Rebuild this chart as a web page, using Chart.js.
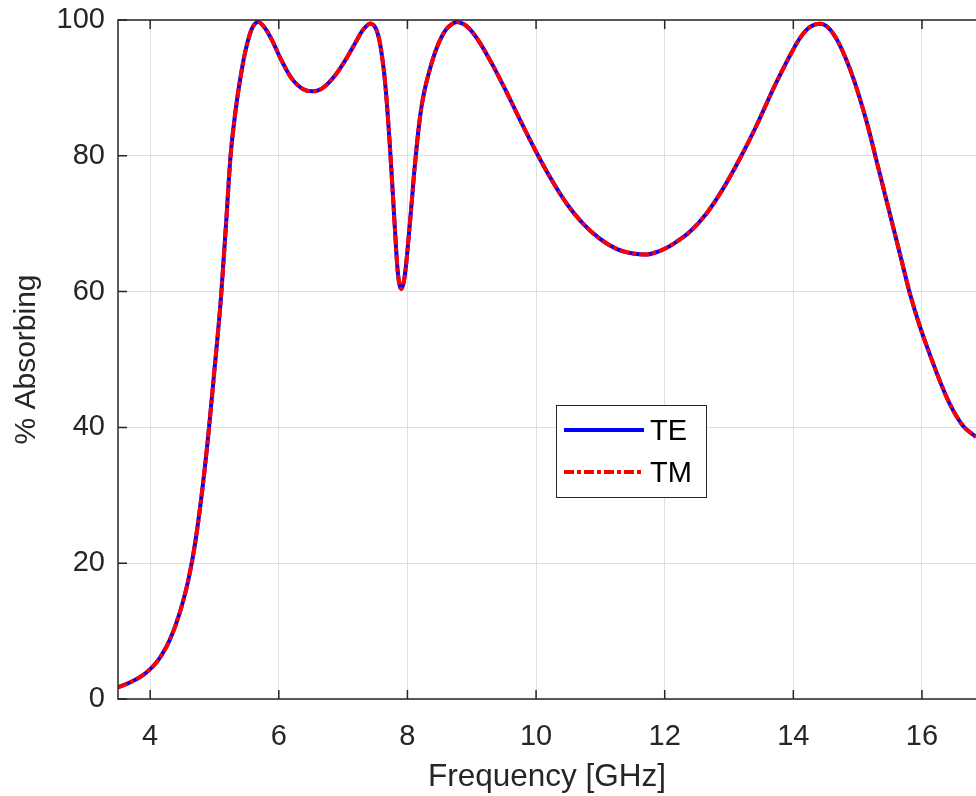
<!DOCTYPE html>
<html><head><meta charset="utf-8">
<script src="https://cdn.jsdelivr.net/npm/chart.js@4.4.1/dist/chart.umd.min.js"></script>
<style>html,body{margin:0;padding:0;background:#fff;overflow:hidden}#wrap{width:976px;height:796px}</style>
</head><body><div id="wrap"><canvas id="c" width="976" height="796"></canvas></div>
<script>
const freq = [3.50,3.70,3.90,4.00,4.10,4.20,4.30,4.40,4.50,4.60,
  4.70,4.80,4.90,5.00,5.10,5.18,5.25,5.30,5.35,5.40,
  5.45,5.50,5.58,5.68,5.80,5.89,6.05,6.20,6.38,6.52,
  6.67,6.88,7.08,7.20,7.29,7.36,7.42,7.48,7.52,7.56,
  7.60,7.64,7.68,7.72,7.75,7.78,7.81,7.84,7.87,7.905,
  7.94,7.97,8.00,8.03,8.07,8.10,8.14,8.18,8.22,8.27,
  8.33,8.40,8.46,8.53,8.61,8.69,8.77,8.85,8.92,9.02,
  9.13,9.34,9.54,9.75,10.00,10.22,10.48,10.73,10.99,11.25,
  11.51,11.70,11.87,12.00,12.13,12.39,12.65,12.91,13.17,13.43,
  13.69,13.95,14.10,14.25,14.42,14.62,14.88,15.14,15.29,15.42,
  15.55,15.68,15.81,15.97,16.12,16.28,16.43,16.64,16.84];
const te = [1.7,2.5,3.6,4.4,5.4,6.8,8.6,11.0,14.0,17.8,
  23.0,30.0,38.5,48.5,59.0,70.0,80.0,84.5,88.2,91.3,
  94.0,96.2,98.7,99.7,98.6,97.1,93.9,91.4,89.8,89.5,
  89.9,91.9,94.8,96.8,98.3,99.1,99.5,99.2,98.5,97.2,
  95.0,92.0,87.8,82.5,78.0,73.3,68.5,64.0,61.3,60.4,
  61.3,63.2,66.0,69.2,73.5,77.0,81.0,84.5,87.3,89.8,
  92.1,94.4,96.0,97.5,98.7,99.4,99.7,99.5,99.1,98.1,
  96.6,93.1,89.4,85.3,80.6,76.8,72.9,70.0,67.8,66.3,
  65.6,65.45,65.8,66.3,67.0,68.8,71.5,75.2,79.6,84.5,
  89.9,94.8,97.3,98.9,99.45,98.0,92.8,85.0,79.4,74.5,
  69.6,64.7,59.8,54.8,50.8,46.8,43.5,40.2,38.6];
const tm = [1.7,2.5,3.6,4.4,5.4,6.8,8.6,11.0,14.0,17.8,
  23.0,30.0,38.5,48.5,59.0,70.0,80.0,84.5,88.2,91.3,
  94.0,96.2,98.7,99.7,98.6,97.1,93.9,91.4,89.8,89.5,
  89.9,91.9,94.8,96.8,98.3,99.1,99.5,99.2,98.5,97.2,
  95.0,92.0,87.8,82.5,78.0,73.3,68.5,64.0,61.3,60.4,
  61.3,63.2,66.0,69.2,73.5,77.0,81.0,84.5,87.3,89.8,
  92.1,94.4,96.0,97.5,98.7,99.4,99.7,99.5,99.1,98.1,
  96.6,93.1,89.4,85.3,80.6,76.8,72.9,70.0,67.8,66.3,
  65.6,65.45,65.8,66.3,67.0,68.8,71.5,75.2,79.6,84.5,
  89.9,94.8,97.3,98.9,99.45,98.0,92.8,85.0,79.4,74.5,
  69.6,64.7,59.8,54.8,50.8,46.8,43.5,40.2,38.6];
const xTicks = [4,6,8,10,12,14,16];
const yTicks = [0,20,40,60,80,100];
const seriesNames = ['TE','TM'];
const xTitle = 'Frequency [GHz]';
const yTitle = '% Absorbing';

const FONT = "'Liberation Sans', Arial, Helvetica, sans-serif";
const AX = '#262626';

const boxPlugin = {
  id: 'box',
  afterDraw(chart) {
    const {ctx, chartArea: a, scales: {x, y}} = chart;
    ctx.save();
    ctx.strokeStyle = AX; ctx.lineWidth = 1.5;
    ctx.beginPath();
    ctx.moveTo(a.right + 2, a.top); ctx.lineTo(a.left, a.top);
    ctx.lineTo(a.left, a.bottom); ctx.lineTo(a.right + 2, a.bottom);
    ctx.stroke();
    const L = 9;
    ctx.beginPath();
    xTicks.forEach(v => {
      const px = x.getPixelForValue(v);
      ctx.moveTo(px, a.bottom); ctx.lineTo(px, a.bottom - L);
      ctx.moveTo(px, a.top); ctx.lineTo(px, a.top + L);
    });
    yTicks.forEach(v => {
      const py = y.getPixelForValue(v);
      ctx.moveTo(a.left, py); ctx.lineTo(a.left + L, py);
    });
    ctx.stroke();
    // legend
    const bx = a.left + 438, by = a.top + 385, bw = 150, bh = 92;
    ctx.fillStyle = '#fff';
    ctx.fillRect(bx, by, bw, bh);
    ctx.strokeStyle = AX; ctx.lineWidth = 1;
    ctx.strokeRect(bx + 0.5, by + 0.5, bw, bh);
    chart.data.datasets.forEach((ds, i) => {
      const ly = by + 25 + i * 42;
      ctx.strokeStyle = ds.borderColor; ctx.lineWidth = ds.borderWidth;
      ctx.setLineDash(ds.borderDash || []);
      ctx.beginPath(); ctx.moveTo(bx + 8, ly); ctx.lineTo(bx + 88, ly); ctx.stroke();
      ctx.setLineDash([]);
      ctx.fillStyle = '#000';
      ctx.font = '29px ' + FONT;
      ctx.textBaseline = 'middle'; ctx.textAlign = 'left';
      ctx.fillText(ds.label, bx + 94, ly + 2);
    });
    ctx.restore();
  }
};

new Chart(document.getElementById('c'), {
  type: 'line',
  data: {
    datasets: [
      {label: seriesNames[0], data: freq.map((f, i) => ({x: f, y: te[i]})),
       borderColor: '#0000ff', borderWidth: 4, order: 1},
      {label: seriesNames[1], data: freq.map((f, i) => ({x: f, y: tm[i]})),
       borderColor: '#ff0000', borderWidth: 4, borderDash: [10, 3, 4, 3], order: 0}
    ]
  },
  options: {
    responsive: false, animation: false,
    layout: {padding: {top: 20, left: 0, right: 0, bottom: 0}},
    elements: {point: {radius: 0}, line: {cubicInterpolationMode: 'monotone', borderCapStyle: 'butt', borderJoinStyle: 'round'}},
    plugins: {legend: {display: false}, tooltip: {enabled: false}},
    scales: {
      x: {
        type: 'linear', min: 3.5, max: 16.84,
        afterBuildTicks: s => { s.ticks = xTicks.map(v => ({value: v})); },
        afterFit: s => { s.height = 97; s.paddingLeft = 0; s.paddingRight = 0; },
        grid: {color: '#dfdfdf', lineWidth: 1, drawTicks: false},
        border: {display: false},
        ticks: {font: {family: FONT, size: 29}, color: AX, padding: 21, maxRotation: 0},
        title: {display: true, text: xTitle, font: {family: FONT, size: 31.5}, color: AX, padding: {top: 0, bottom: 0}}
      },
      y: {
        type: 'linear', min: 0, max: 100,
        afterBuildTicks: s => { s.ticks = yTicks.map(v => ({value: v})); },
        afterFit: s => { s.width = 118; s.paddingTop = 0; s.paddingBottom = 0; },
        grid: {color: '#dfdfdf', lineWidth: 1, drawTicks: false},
        border: {display: false},
        ticks: {font: {family: FONT, size: 29}, color: AX, padding: 13},
        title: {display: true, text: yTitle, font: {family: FONT, size: 30}, color: AX, padding: {top: 9, bottom: 0}}
      }
    }
  },
  plugins: [boxPlugin]
});
</script>
</body></html>
